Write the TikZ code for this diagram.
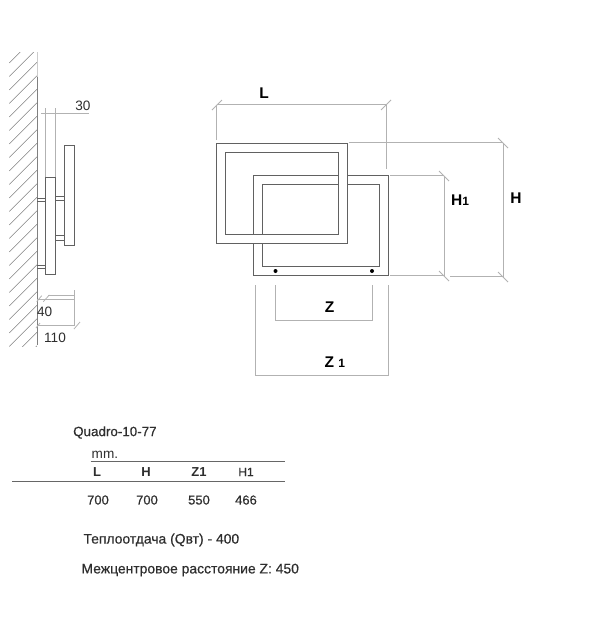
\documentclass[tikz,border=0pt]{standalone}
\usepackage{fontspec}
\setmainfont{Liberation Sans}
\newfontfamily\semib[FakeBold=0.6]{Liberation Sans}
\definecolor{dimgray}{gray}{0.7}
\definecolor{framegray}{gray}{0.38}
\definecolor{txt}{gray}{0.18}
\tikzset{
  frameline/.style={draw=framegray,line width=1.3pt},
  dimline/.style={draw=dimgray,line width=0.8pt},
  hatch/.style={draw=gray,line width=0.55pt},
  sideline/.style={draw=black!62,line width=1pt},
  rule/.style={draw=black!60,line width=0.8pt},
  lab/.style={inner sep=0pt,text=txt,font=\fontsize{13.6}{16}\selectfont},
  blab/.style={inner sep=0pt,text=black,font=\fontsize{15.5}{18}\bfseries\selectfont},
  tlab/.style={inner sep=0pt,text=txt,font=\fontsize{13}{15}\bfseries\selectfont},
  slab/.style={inner sep=0pt,text=txt,font=\fontsize{13.9}{16}\semib},
}
\begin{document}
\begin{tikzpicture}[x=1pt,y=-1pt]
\useasboundingbox (0,0) rectangle (600,627);
% wall
\begin{scope}
\clip (9,52.7) rectangle (37,346.5);
\foreach \k in {0,...,24}{
  \draw[hatch] (9.3,63+13.5*\k) -- (37,63+13.5*\k-27.7);
}
\end{scope}
\draw[draw=black!20,line width=0.8pt] (37,52) -- (37,77);
\draw[draw=gray,line width=0.9pt] (37,77) -- (37,345);
% side view
\draw[sideline] (37,198.7) -- (45.3,198.7) (37,201.5) -- (45.3,201.5);
\draw[sideline] (37,265.7) -- (45.3,265.7) (37,268.7) -- (45.3,268.7);
\draw[sideline] (55.3,196.5) -- (64.3,196.5) (55.3,200.7) -- (64.3,200.7);
\draw[sideline] (55.3,235.3) -- (64.3,235.3) (55.3,240) -- (64.3,240);
\draw[sideline] (45.3,177.7) rectangle (55.3,274.3);
\draw[sideline] (64.3,145.3) rectangle (74.3,245.3);
% side dims
\draw[dimline] (41,113.3) -- (89,113.3);
\draw[dimline] (45.3,108) -- (45.3,177) (55,108) -- (55,177);
\draw[dimline] (48,295) -- (74,295) (37,299) -- (74,299) (74,290) -- (74,326);
\draw[dimline] (37,325.7) -- (74,325.7);
\draw[dimline] (36.7,301.7) -- (41.7,295.7) (43.3,301.7) -- (49.3,295);
\draw[dimline] (36,328) -- (40,323) (74,329) -- (80,322);
\node[lab] (t30) at (83,106) {30};
\node[lab] (t40) at (44.7,311.7) {40};
\node[lab] (t110) at (55,338) {110};
% rear frame B
\draw[frameline] (253.7,175.7) rectangle (388.7,275.7);
\draw[frameline] (262.7,184.7) rectangle (379.7,266.7);
\fill[black] (275.5,271) circle (2);
\fill[black] (372,271) circle (2);
% front frame A
\fill[white,even odd rule] (216.7,143.3) rectangle (347.7,243.7) (225.7,152.7) rectangle (338.3,234.7);
\draw[frameline] (216.7,143.3) rectangle (347.7,243.7);
\draw[frameline] (225.7,152.7) rectangle (338.3,234.7);
% dims L
\draw[dimline] (216.7,104.7) -- (386,104.7);
\draw[dimline] (216.7,104.7) -- (216.7,140) (386,104.7) -- (386,169);
\draw[dimline] (212,110) -- (222,100) (381,110) -- (391,100);
% dims H, H1
\draw[dimline] (349,142.5) -- (503,142.5) (503,142.5) -- (503,276.5) (450,276.5) -- (503,276.5);
\draw[dimline] (498,138) -- (508,148) (498,272) -- (508,282);
\draw[dimline] (390,175.7) -- (444,175.7) (444,175.7) -- (444,276) (390,275.7) -- (444,275.7);
\draw[dimline] (439,171) -- (449,181) (439,271) -- (449,281);
% dims Z
\draw[dimline] (275,285) -- (275,320.5) -- (372.7,320.5) -- (372.7,285);
\draw[dimline] (255,285) -- (255,375.5) -- (388,375.5) -- (388,285);
\node[blab] (tL) at (264,93) {L};
\node[blab,anchor=west] (tH1) at (451,200) {H{\fontsize{12}{14}\selectfont 1}};
\node[blab] (tH) at (516,198) {H};
\node[blab] (tZ) at (329.5,307) {Z};
\node[blab,anchor=west] (tZ1) at (324.5,362) {Z {\fontsize{12}{14}\selectfont 1}};
% table
\node[slab,font=\fontsize{13.4}{16}\semib,anchor=west] (q) at (73,432.5) {Quadro-10-77};
\node[lab,anchor=west] (mm) at (91.5,455) {mm.};
\draw[rule] (90.7,461) -- (285,461);
\draw[rule] (12,481.3) -- (285,481.3);
\node[tlab] (h1) at (97,472) {L};
\node[tlab] (h2) at (146,472) {H};
\node[tlab] (h3) at (199,472) {Z1};
\node[slab,font=\fontsize{12}{14}\semib] (h4) at (246,472) {H1};
\node[slab,font=\fontsize{13}{15}\semib] (v1) at (98,500) {700};
\node[slab,font=\fontsize{13}{15}\semib] (v2) at (147,500) {700};
\node[slab,font=\fontsize{13}{15}\semib] (v3) at (199,500) {550};
\node[slab,font=\fontsize{13}{15}\semib] (v4) at (246,500) {466};
\node[slab,anchor=west] (p) at (83.3,540) {Теплоотдача (Qвт) - 400};
\node[slab,anchor=west] (d) at (81.3,570) {Межцентровое расстояние Z: 450};
\end{tikzpicture}
\end{document}
